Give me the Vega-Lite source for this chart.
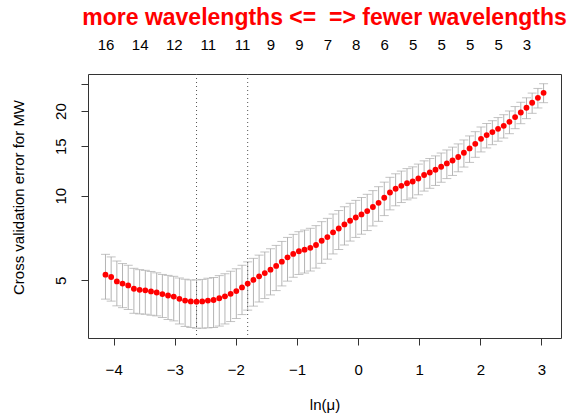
{
  "$schema": "https://vega.github.io/schema/vega-lite/v6.json",
  "width": 473,
  "height": 264,
  "autosize": {"type": "none"},
  "padding": {"left": 88, "top": 74, "right": 11, "bottom": 75},
  "config": {
    "font": "Liberation Sans",
    "view": {"stroke": "#333", "strokeWidth": 1},
    "axis": {"grid": false, "labelFont": "Liberation Sans", "titleFont": "Liberation Sans", "labelFontSize": 15, "titleFontSize": 15, "titleFontWeight": "normal", "labelColor": "#000", "titleColor": "#000", "tickColor": "#333", "tickSize": 7, "domain": false}
  },
  "title": {"text": "more wavelengths <= \u00a0=> fewer wavelengths", "color": "red", "fontSize": 23, "fontWeight": "bold", "font": "Liberation Sans", "anchor": "middle", "baseline": "bottom", "offset": -16},
  "datasets": {
    "cv": [
      {"x": -4.134, "cvm": 5.24, "lo": 4.29, "hi": 6.19},
      {"x": -4.041, "cvm": 5.14, "lo": 4.22, "hi": 6.06},
      {"x": -3.948, "cvm": 4.96, "lo": 4.06, "hi": 5.86},
      {"x": -3.855, "cvm": 4.87, "lo": 4.00, "hi": 5.74},
      {"x": -3.762, "cvm": 4.80, "lo": 3.94, "hi": 5.66},
      {"x": -3.669, "cvm": 4.67, "lo": 3.82, "hi": 5.52},
      {"x": -3.575, "cvm": 4.63, "lo": 3.80, "hi": 5.46},
      {"x": -3.482, "cvm": 4.61, "lo": 3.79, "hi": 5.43},
      {"x": -3.389, "cvm": 4.57, "lo": 3.76, "hi": 5.38},
      {"x": -3.296, "cvm": 4.53, "lo": 3.74, "hi": 5.32},
      {"x": -3.203, "cvm": 4.47, "lo": 3.69, "hi": 5.25},
      {"x": -3.110, "cvm": 4.42, "lo": 3.63, "hi": 5.21},
      {"x": -3.017, "cvm": 4.38, "lo": 3.59, "hi": 5.17},
      {"x": -2.924, "cvm": 4.30, "lo": 3.50, "hi": 5.10},
      {"x": -2.831, "cvm": 4.24, "lo": 3.43, "hi": 5.05},
      {"x": -2.738, "cvm": 4.21, "lo": 3.40, "hi": 5.02},
      {"x": -2.644, "cvm": 4.20, "lo": 3.38, "hi": 5.02},
      {"x": -2.551, "cvm": 4.21, "lo": 3.38, "hi": 5.04},
      {"x": -2.458, "cvm": 4.24, "lo": 3.39, "hi": 5.09},
      {"x": -2.365, "cvm": 4.26, "lo": 3.40, "hi": 5.12},
      {"x": -2.272, "cvm": 4.32, "lo": 3.44, "hi": 5.20},
      {"x": -2.179, "cvm": 4.39, "lo": 3.50, "hi": 5.28},
      {"x": -2.086, "cvm": 4.48, "lo": 3.57, "hi": 5.39},
      {"x": -1.993, "cvm": 4.58, "lo": 3.66, "hi": 5.50},
      {"x": -1.900, "cvm": 4.72, "lo": 3.78, "hi": 5.66},
      {"x": -1.807, "cvm": 4.87, "lo": 3.92, "hi": 5.82},
      {"x": -1.713, "cvm": 5.02, "lo": 4.05, "hi": 5.99},
      {"x": -1.620, "cvm": 5.17, "lo": 4.19, "hi": 6.15},
      {"x": -1.527, "cvm": 5.31, "lo": 4.31, "hi": 6.31},
      {"x": -1.434, "cvm": 5.46, "lo": 4.44, "hi": 6.48},
      {"x": -1.341, "cvm": 5.63, "lo": 4.60, "hi": 6.66},
      {"x": -1.248, "cvm": 5.83, "lo": 4.78, "hi": 6.88},
      {"x": -1.155, "cvm": 6.04, "lo": 4.97, "hi": 7.11},
      {"x": -1.062, "cvm": 6.21, "lo": 5.13, "hi": 7.29},
      {"x": -0.969, "cvm": 6.35, "lo": 5.25, "hi": 7.45},
      {"x": -0.876, "cvm": 6.43, "lo": 5.31, "hi": 7.55},
      {"x": -0.782, "cvm": 6.53, "lo": 5.40, "hi": 7.66},
      {"x": -0.689, "cvm": 6.68, "lo": 5.53, "hi": 7.83},
      {"x": -0.596, "cvm": 6.92, "lo": 5.75, "hi": 8.09},
      {"x": -0.503, "cvm": 7.13, "lo": 5.95, "hi": 8.31},
      {"x": -0.410, "cvm": 7.41, "lo": 6.21, "hi": 8.61},
      {"x": -0.317, "cvm": 7.65, "lo": 6.44, "hi": 8.86},
      {"x": -0.224, "cvm": 7.91, "lo": 6.68, "hi": 9.14},
      {"x": -0.131, "cvm": 8.15, "lo": 6.90, "hi": 9.40},
      {"x": -0.038, "cvm": 8.37, "lo": 7.11, "hi": 9.63},
      {"x": 0.055, "cvm": 8.58, "lo": 7.30, "hi": 9.86},
      {"x": 0.149, "cvm": 8.82, "lo": 7.52, "hi": 10.12},
      {"x": 0.242, "cvm": 9.12, "lo": 7.81, "hi": 10.43},
      {"x": 0.335, "cvm": 9.44, "lo": 8.11, "hi": 10.77},
      {"x": 0.428, "cvm": 9.84, "lo": 8.50, "hi": 11.18},
      {"x": 0.521, "cvm": 10.27, "lo": 8.91, "hi": 11.63},
      {"x": 0.614, "cvm": 10.59, "lo": 9.21, "hi": 11.97},
      {"x": 0.707, "cvm": 10.85, "lo": 9.46, "hi": 12.24},
      {"x": 0.800, "cvm": 11.08, "lo": 9.67, "hi": 12.49},
      {"x": 0.893, "cvm": 11.24, "lo": 9.81, "hi": 12.67},
      {"x": 0.986, "cvm": 11.52, "lo": 10.08, "hi": 12.96},
      {"x": 1.080, "cvm": 11.85, "lo": 10.39, "hi": 13.31},
      {"x": 1.173, "cvm": 12.10, "lo": 10.63, "hi": 13.57},
      {"x": 1.266, "cvm": 12.37, "lo": 10.88, "hi": 13.86},
      {"x": 1.359, "cvm": 12.68, "lo": 11.17, "hi": 14.19},
      {"x": 1.452, "cvm": 13.03, "lo": 11.51, "hi": 14.55},
      {"x": 1.545, "cvm": 13.35, "lo": 11.81, "hi": 14.89},
      {"x": 1.638, "cvm": 13.73, "lo": 12.17, "hi": 15.29},
      {"x": 1.731, "cvm": 14.22, "lo": 12.65, "hi": 15.79},
      {"x": 1.824, "cvm": 14.73, "lo": 13.14, "hi": 16.32},
      {"x": 1.917, "cvm": 15.30, "lo": 13.70, "hi": 16.90},
      {"x": 2.011, "cvm": 15.94, "lo": 14.32, "hi": 17.56},
      {"x": 2.104, "cvm": 16.43, "lo": 14.79, "hi": 18.07},
      {"x": 2.197, "cvm": 16.84, "lo": 15.19, "hi": 18.49},
      {"x": 2.290, "cvm": 17.30, "lo": 15.63, "hi": 18.97},
      {"x": 2.383, "cvm": 17.73, "lo": 16.04, "hi": 19.42},
      {"x": 2.476, "cvm": 18.32, "lo": 16.62, "hi": 20.02},
      {"x": 2.569, "cvm": 19.04, "lo": 17.32, "hi": 20.76},
      {"x": 2.662, "cvm": 19.77, "lo": 18.04, "hi": 21.50},
      {"x": 2.755, "cvm": 20.55, "lo": 18.80, "hi": 22.30},
      {"x": 2.848, "cvm": 21.41, "lo": 19.64, "hi": 23.18},
      {"x": 2.942, "cvm": 22.30, "lo": 20.52, "hi": 24.08},
      {"x": 3.035, "cvm": 23.23, "lo": 21.43, "hi": 25.03}
    ],
    "lines": [{"x": -2.644}, {"x": -1.807}]
  },
  "layer": [
    {
      "data": {"name": "cv"},
      "mark": {"type": "rule", "color": "#B4B4B4", "strokeWidth": 1},
      "encoding": {
        "x": {"field": "x", "type": "quantitative", "scale": {"domain": [-4.42, 3.32], "nice": false, "zero": false},
          "axis": {"orient": "bottom", "values": [-4, -3, -2, -1, 0, 1, 2, 3], "labelBaseline": "middle", "labelPadding": 24, "title": "ln(μ)", "titleX": 236.5, "titleY": 66, "titleBaseline": "middle", "titleAlign": "center"}},
        "y": {"field": "lo", "type": "quantitative", "scale": {"type": "log", "domain": [3.12, 27.1], "nice": false},
          "axis": {"orient": "left", "values": [5, 10, 15, 20, 25], "labelExpr": "datum.value == 25 ? '' : datum.label", "labelAngle": -90, "labelAlign": "center", "labelBaseline": "middle", "labelPadding": 21, "title": "Cross validation error for MW", "titleAngle": -90, "titleX": -70, "titleY": 123, "titleAlign": "center", "titleBaseline": "middle"}},
        "y2": {"field": "hi"}
      }
    },
    {
      "data": {"name": "cv"},
      "mark": {"type": "tick", "orient": "horizontal", "color": "#A9A9A9", "size": 9, "thickness": 1},
      "encoding": {
        "x": {"field": "x", "type": "quantitative", "axis": null},
        "y": {"field": "lo", "type": "quantitative"}
      }
    },
    {
      "data": {"name": "cv"},
      "mark": {"type": "tick", "orient": "horizontal", "color": "#A9A9A9", "size": 9, "thickness": 1},
      "encoding": {
        "x": {"field": "x", "type": "quantitative", "axis": null},
        "y": {"field": "hi", "type": "quantitative"}
      }
    },
    {
      "data": {"name": "lines"},
      "mark": {"type": "rule", "color": "#555", "strokeDash": [1, 3], "strokeWidth": 1},
      "encoding": {
        "x": {"field": "x", "type": "quantitative", "axis": null}
      }
    },
    {
      "data": {"name": "cv"},
      "mark": {"type": "circle", "color": "red", "size": 34, "opacity": 1},
      "encoding": {
        "x": {"field": "x", "type": "quantitative",
          "axis": {"orient": "top", "values": [-4.134, -3.575, -3.017, -2.458, -1.9, -1.434, -0.969, -0.503, -0.038, 0.428, 0.893, 1.359, 1.824, 2.29, 2.755], "labelExpr": "['16','14','12','11','11','9','9','7','8','6','5','5','5','5','3'][indexof([-4.134, -3.575, -3.017, -2.458, -1.9, -1.434, -0.969, -0.503, -0.038, 0.428, 0.893, 1.359, 1.824, 2.29, 2.755], datum.value)]", "ticks": false, "tickSize": 0, "labelPadding": 30, "labelBaseline": "middle", "labelFlush": false, "labelOverlap": false, "title": null, "domain": false}},
        "y": {"field": "cvm", "type": "quantitative"}
      }
    }
  ],
  "resolve": {"axis": {"x": "independent"}}
}
